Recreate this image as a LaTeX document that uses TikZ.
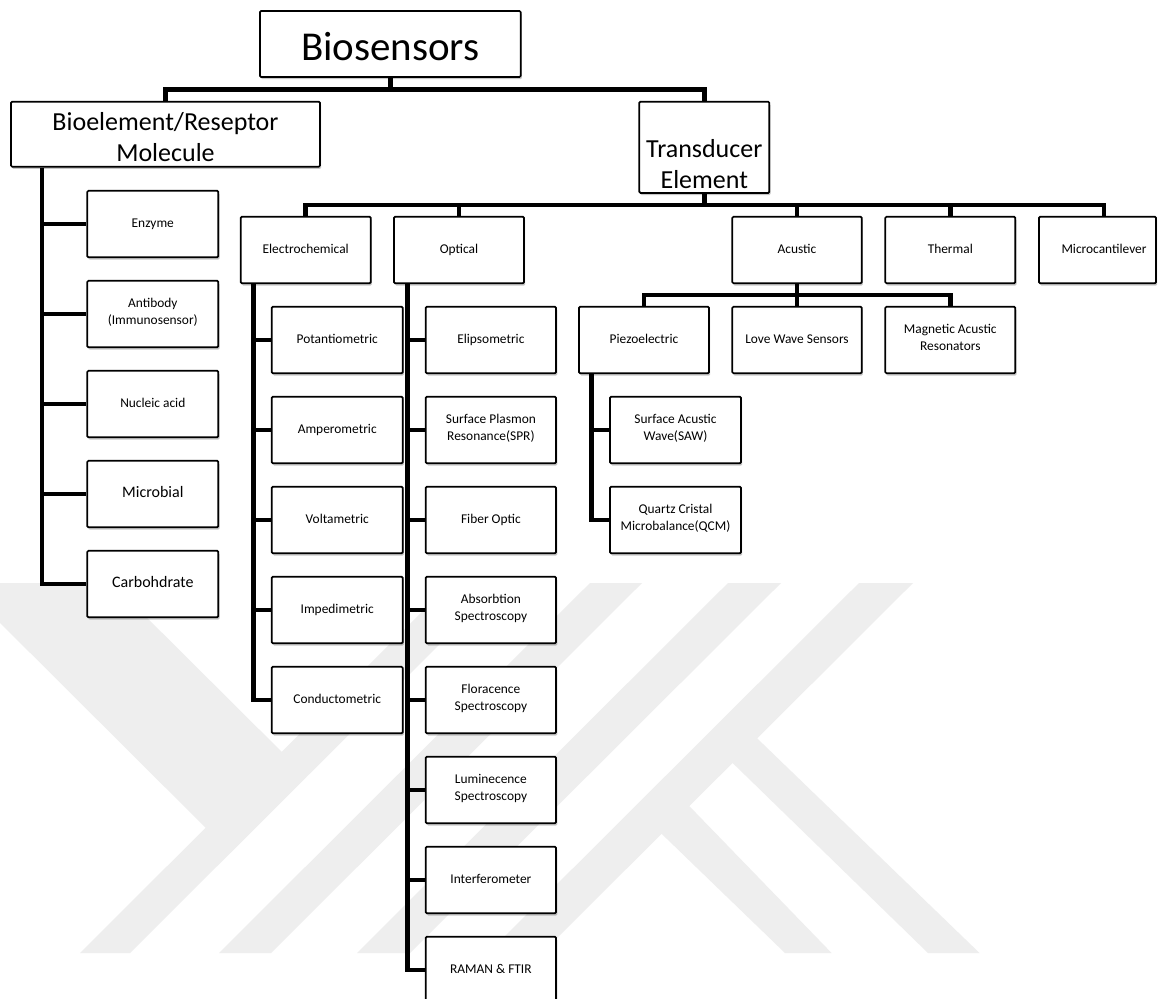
\documentclass[tikz,border=0pt]{standalone}
\usepackage{fontspec}
\setmainfont{Carlito}
\usetikzlibrary{calc,shadows}
\definecolor{wm}{RGB}{238,238,238}
\begin{document}
\begin{tikzpicture}[x=1pt,y=-1pt,
  box/.style={draw=black, line width=1.7pt, fill=white, rounded corners=1.2pt, inner sep=0pt,
    align=center, minimum width=130pt, minimum height=66.6pt,
    font=\fontsize{13.4}{16.5}\selectfont, execute at begin node=\strut,
    drop shadow={shadow xshift=1.2pt, shadow yshift=-2.2pt, opacity=0.22, fill=black}},
  bigbox/.style={box, font=\fontsize{16}{19}\selectfont},
  bigtext/.style={font=\fontsize{26}{31}\selectfont, align=center, inner sep=0pt},
  conn/.style={line width=4.8pt, draw=black, line join=miter},
  wmark/.style={fill=wm, draw=none}]
\useasboundingbox (0,0) rectangle (1158,998);
\clip (0,0) rectangle (1158,998);
\fill[white] (0,0) rectangle (1158,998);
% watermark
\fill[wmark] (-40,583) -- (112,583) -- (306.5,776.5) -- (230.5,852.5) -- cycle;
\fill[wmark] (451,583) -- (501,583) -- (130,953) -- (80,953) -- cycle;
\fill[wmark] (590,583) -- (642,583) -- (271,953) -- (219,953) -- cycle;
\fill[wmark] (728,583) -- (781,583) -- (410,953) -- (357,953) -- cycle;
\fill[wmark] (859,583) -- (913,583) -- (542,953) -- (488,953) -- cycle;
\fill[wmark] (734,716) -- (979.5,953) -- (928,953) -- (709,740) -- cycle;
\fill[wmark] (665,781) -- (831.6,953) -- (785,953) -- (637,810) -- cycle;

% top level
\node[box, minimum width=260.7pt, minimum height=66pt, font=\fontsize{41}{48}\selectfont,
  execute at begin node={}, text height=32pt, text depth=0pt] (bio) at (390.3,44) {Biosensors};
\node[box, minimum width=309pt, minimum height=65pt, execute at begin node={}] (recep) at (165.5,134.2) {};
\node[bigtext] (receptxt) at (165.5,137.5) {Bioelement/Reseptor\\Molecule};
\node[box, minimum width=130pt, minimum height=91.3pt, execute at begin node={}] (trans) at (704.3,147.3) {};
\node[bigtext] (transtxt) at (704.3,164.5) {Transducer\\Element};

% receptor children
\node[box, minimum width=131pt] (enz) at (152.8,224) {Enzyme};
\node[box, minimum width=131pt] (anti) at (152.8,314) {Antibody\\(Immunosensor)\strut};
\node[box, minimum width=131pt] (nuc) at (152.8,404) {Nucleic acid};
\node[bigbox, minimum width=131pt] (mic) at (152.8,494) {Microbial};
\node[bigbox, minimum width=131pt] (carb) at (152.8,584) {Carbohdrate};

% transducer children
\node[box] (ec) at (305.7,250) {Electrochemical};
\node[box] (op) at (459,250) {Optical};
\node[box, minimum width=129.4pt] (ac) at (797,250) {Acustic};
\node[box] (th) at (950.3,250) {Thermal};
\node[box, minimum width=117pt] (mc) at (1097.5,250) {\hspace*{13pt}Microcantilever};

% electrochemical children
\node[box, minimum width=131pt] (pot) at (337.2,340) {Potantiometric};
\node[box, minimum width=131pt] (amp) at (337.2,430) {Amperometric};
\node[box, minimum width=131pt] (volt) at (337.2,520) {Voltametric};
\node[box, minimum width=131pt] (imp) at (337.2,610) {Impedimetric};
\node[box, minimum width=131pt] (cond) at (337.2,700) {Conductometric};

% optical children
\node[box, minimum width=130.3pt] (eli) at (490.9,340) {Elipsometric};
\node[box, minimum width=130.3pt] (spr) at (490.9,430) {Surface Plasmon\\Resonance(SPR)\strut};
\node[box, minimum width=130.3pt] (fib) at (490.9,520) {Fiber Optic};
\node[box, minimum width=130.3pt] (abs) at (490.9,610) {Absorbtion\\Spectroscopy\strut};
\node[box, minimum width=130.3pt] (flo) at (490.9,700) {Floracence\\Spectroscopy\strut};
\node[box, minimum width=130.3pt] (lum) at (490.9,790) {Luminecence\\Spectroscopy\strut};
\node[box, minimum width=130.3pt] (int) at (490.9,880) {Interferometer};
\node[box, minimum width=130.3pt] (ram) at (490.9,970) {RAMAN \& FTIR};

% acustic children
\node[box] (pz) at (644,340) {Piezoelectric};
\node[box, minimum width=129.4pt] (lw) at (797,340) {Love Wave Sensors};
\node[box] (ma) at (950.3,340) {Magnetic Acustic\\Resonators\strut};

% piezo children
\node[box, minimum width=131pt] (saw) at (675.5,430) {Surface Acustic\\Wave(SAW)\strut};
\node[box, minimum width=131pt] (qcm) at (675.5,520) {Quartz Cristal\\Microbalance(QCM)\strut};

% connectors: top
\coordinate (busTop) at (390.3,89.5);
\draw[conn] (recep.north) |- (busTop) -| (trans.north);
\draw[conn] (bio.south) -- (busTop);

% receptor trunk
\path (recep.south west) ++(31.8,0) coordinate (lt);
\draw[conn] (lt) |- (carb.west);
\foreach \c in {enz,anti,nuc,mic} \draw[conn] (lt |- \c.west) -- (\c.west);

% transducer bus
\coordinate (busT) at (704.3,205);
\coordinate (mcn) at ($(mc.north)+(6.5,0)$);
\draw[conn] (ec.north) |- (busT) -| (mcn);
\draw[conn] (trans.south) -- (busT);
\foreach \c in {op,ac,th} \draw[conn] (\c.north) -- (\c.north |- busT);

% electrochemical trunk
\path (ec.south west) ++(13.6,0) coordinate (ect);
\draw[conn] (ect) |- (cond.west);
\foreach \c in {pot,amp,volt,imp} \draw[conn] (ect |- \c.west) -- (\c.west);

% optical trunk
\path (op.south west) ++(14.3,0) coordinate (opt);
\draw[conn] (opt) |- (ram.west);
\foreach \c in {eli,spr,fib,abs,flo,lum,int} \draw[conn] (opt |- \c.west) -- (\c.west);

% acustic bus
\coordinate (busA) at (797,295);
\draw[conn] (pz.north) |- (busA) -| (ma.north);
\draw[conn] (ac.south) -- (busA);
\draw[conn] (lw.north) -- (lw.north |- busA);

% piezo trunk
\path (pz.south west) ++(13.7,0) coordinate (pzt);
\draw[conn] (pzt) |- (qcm.west);
\draw[conn] (pzt |- saw.west) -- (saw.west);
\end{tikzpicture}
\end{document}
